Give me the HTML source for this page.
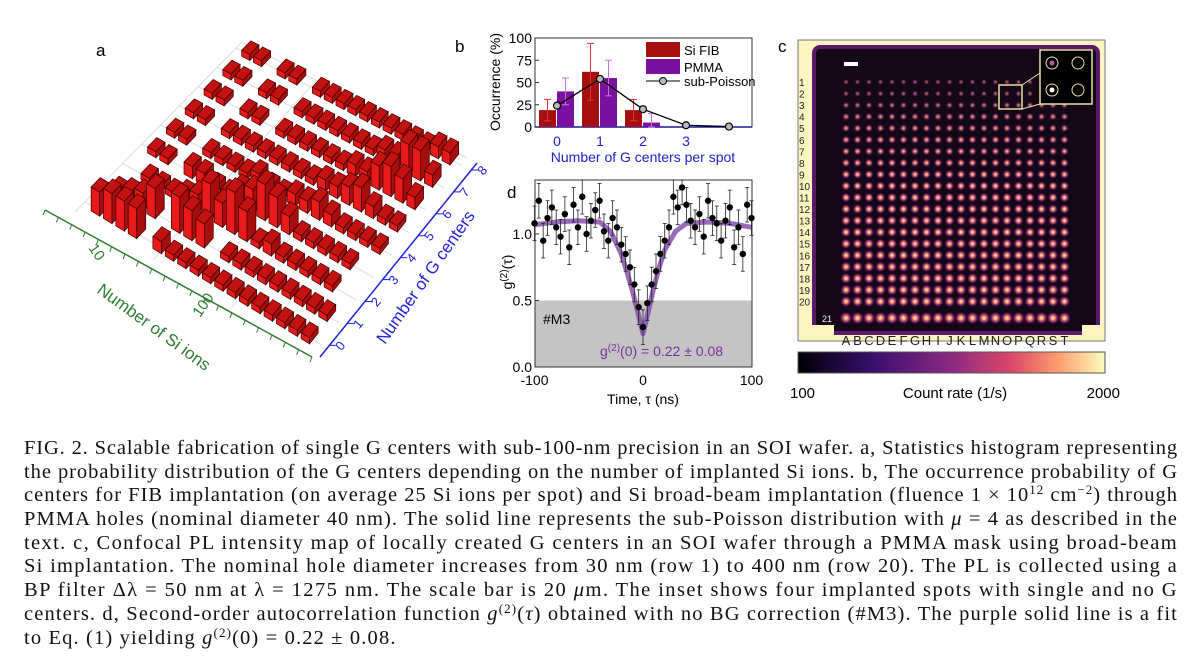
<!DOCTYPE html>
<html><head><meta charset="utf-8">
<style>
body{margin:0;width:1200px;height:672px;background:#fff;overflow:hidden;font-family:"Liberation Sans",sans-serif}
#cap{position:absolute;left:24px;top:437px;width:1154px;font-family:"Liberation Serif",serif;font-size:20.5px;line-height:23.7px;color:#111}
#cap div{white-space:nowrap;height:23.7px}
#cap sup{font-size:13px;line-height:0;vertical-align:7px}
</style></head><body>
<svg id="fig" width="1200" height="425" style="position:absolute;left:0;top:0" font-family="Liberation Sans, sans-serif">
<text x="96" y="56" font-size="17">a</text>
<text x="455" y="52" font-size="17">b</text>
<text x="778" y="52" font-size="17">c</text>
<text x="507" y="198" font-size="17">d</text>
<g id="pa"></g>
<g id="pb"></g>
<g id="pd"></g>
<g id="pc"></g>
</svg>
<div id="cap">
<div>FIG. 2. Scalable fabrication of single G centers with sub-100-nm precision in an SOI wafer. a, Statistics histogram representing</div>
<div>the probability distribution of the G centers depending on the number of implanted Si ions. b, The occurrence probability of G</div>
<div>centers for FIB implantation (on average 25 Si ions per spot) and Si broad-beam implantation (fluence 1 × 10<sup>12</sup> cm<sup>−2</sup>) through</div>
<div>PMMA holes (nominal diameter 40 nm). The solid line represents the sub-Poisson distribution with <i>μ</i> = 4 as described in the</div>
<div>text. c, Confocal PL intensity map of locally created G centers in an SOI wafer through a PMMA mask using broad-beam</div>
<div>Si implantation. The nominal hole diameter increases from 30 nm (row 1) to 400 nm (row 20). The PL is collected using a</div>
<div>BP filter Δλ = 50 nm at λ = 1275 nm. The scale bar is 20 <i>μ</i>m. The inset shows four implanted spots with single and no G</div>
<div>centers. d, Second-order autocorrelation function <i>g</i><sup>(2)</sup>(<i>τ</i>) obtained with no BG correction (#M3). The purple solid line is a fit</div>
<div class="last">to Eq. (1) yielding <i>g</i><sup>(2)</sup>(0) = 0.22 ± 0.08.</div>
</div>
<script>
// ---------- data ----------
// panel a: heights (rows = G centers 0..8, cols = Si-ion bins, low to high)
const aRow0=[4,5,5,5,0,2,1,1,1,1,1,1,1,1,1,1,1,1];
const aRow1=[1,2,3,5,0,6,5,4,0,1,1,1,1,1,1,1,1,1];
const aRow2=[0,1,1,1,2,3,6,4,7,5,1,2,1,1,1,1,1,0];
const aRow3=[1,1,0,2,2,1,1,3,4,6,5,3,1,1,1,1,1,0];
const aRow4=[1,1,0,1,1,1,1,2,1,1,2,2,3,2,1,1,1,1];
const aRow5=[1,1,0,1,1,1,1,1,1,1,1,2,2,3,4,2,1,1];
const aRow6=[1,1,0,1,1,0,1,1,1,1,1,1,2,2,4,5,4,2];
const aRow7=[1,1,0,1,1,0,1,1,1,1,1,1,1,2,2,5,5,2];
const aRow8=[1,1,0,1,1,0,1,1,1,1,1,1,1,1,1,1,2,2];
const aRows=[aRow0,aRow1,aRow2,aRow3,aRow4,aRow5,aRow6,aRow7,aRow8];
const aGTicks=["0","1","2","3","4","5","6","7","8"];
// panel b
const bCats=[0,1,2,3];
const bFib=[19,62,19,0];
const bFibErr=[12,32,12,0];
const bPmma=[40,55,5,0];
const bPmmaErr=[15,20,10,0];
const bPoisX=[0,1,2,3,4];
const bPois=[24,54,20,2,0.5];
const bYTicks=[0,25,50,75,100];
// panel d
const dTau=[-100,-96,-92,-88,-84,-80,-76,-72,-68,-64,-60,-56,-52,-48,-44,-40,-36,-32,-28,-24,-20,-16,-12,-8,-4,0,4,8,12,16,20,24,28,32,36,40,44,48,52,56,60,64,68,72,76,80,84,88,92,96,100];
const dG2=[1.08,1.25,0.95,1.12,1.20,1.05,0.98,1.15,0.90,1.22,1.05,1.28,1.00,1.10,1.18,1.25,1.02,0.95,1.12,1.05,0.92,0.85,0.75,0.62,0.45,0.30,0.48,0.62,0.72,0.85,0.95,1.05,1.28,1.20,1.35,1.22,1.10,1.05,1.15,0.98,1.25,1.12,1.08,0.95,1.10,1.20,0.90,1.05,0.85,1.22,1.12];
const dFitTau=[-100,-80,-60,-40,-30,-20,-15,-10,-5,0,5,10,15,20,30,40,60,80,100];
const dFit=[1.07,1.09,1.10,1.09,1.02,0.85,0.72,0.58,0.42,0.25,0.42,0.60,0.75,0.88,1.02,1.08,1.09,1.08,1.05];
const dXTicks=[-100,0,100];
const dYTicks=[0.0,0.5,1.0];
// panel c: row brightness (rows 1..21) and column labels
const cRowLevel=[0.15,0.2,0.3,0.4,0.45,0.5,0.5,0.55,0.6,0.65,0.7,0.72,0.75,0.78,0.8,0.82,0.85,0.88,0.9,0.92,1.0];
const cCols=["A","B","C","D","E","F","G","H","I","J","K","L","M","N","O","P","Q","R","S","T"];

const NS="http://www.w3.org/2000/svg";
function mk(parent,tag,attrs,text){const e=document.createElementNS(NS,tag);for(const k in attrs)e.setAttribute(k,attrs[k]);if(text!==undefined)e.textContent=text;parent.appendChild(e);return e;}

// ---------- panel a ----------
(function(){
const g=document.getElementById('pa');
const P00=[75,212],P10=[312,357],P11=[467,158],P01=[242,42];
function P(u,v){return [P00[0]*(1-u)*(1-v)+P10[0]*u*(1-v)+P11[0]*u*v+P01[0]*(1-u)*v,
 P00[1]*(1-u)*(1-v)+P10[1]*u*(1-v)+P11[1]*u*v+P01[1]*(1-u)*v];}
for(let r=0;r<9;r++){const v=0.06+r*0.113;const a=P(0,v),b=P(1,v);
 const l=mk(g,'line',{x1:a[0],y1:a[1],x2:b[0],y2:b[1],stroke:'#ddd','stroke-width':1});
 }
[0,0.33,0.66].forEach(u=>{const a=P(u,0),b=P(u,1);mk(g,'line',{x1:a[0],y1:a[1],x2:b[0],y2:b[1],stroke:'#ddd'});});
const o=P(0,1);
mk(g,'line',{x1:o[0],y1:o[1],x2:P11[0],y2:P11[1],stroke:'#ddd'});
const ax1=mk(g,'line',{x1:P00[0]-30,y1:P00[1]-2,x2:P10[0],y2:P10[1],stroke:'#2e7d32','stroke-width':1.5});

const ax2=mk(g,'line',{x1:P10[0]+8,y1:P10[1],x2:P11[0]+10,y2:P11[1]+5,stroke:'#2222dd','stroke-width':1.5});

for(let i=0;i<=20;i++){const t=i/20;const x=P00[0]-30+(P10[0]-P00[0]+30)*t,y=P00[1]-2+(P10[1]-P00[1]+2)*t;
 mk(g,'line',{x1:x,y1:y,x2:x-2,y2:y+5,stroke:'#2e7d32'});}
aGTicks.forEach((lab,i)=>{const t=(0.06+i*0.113);const x=P10[0]+8+(P11[0]-P10[0]+2)*t,y=P10[1]+(P11[1]+5-P10[1])*t;
 mk(g,'line',{x1:x,y1:y,x2:x+7,y2:y,stroke:'#2222dd'});
 const tx=mk(g,'text',{x:x+12,y:y+6,'font-size':13,fill:'#2222dd',transform:`rotate(-50 ${x+12} ${y+6})`},lab);
 });
const t10=mk(g,'text',{x:88,y:248,'font-size':15,fill:'#2e7d32',transform:'rotate(55 88 248)'},'10');

const t100=mk(g,'text',{x:200,y:318,'font-size':15,fill:'#2e7d32',transform:'rotate(-55 200 318)'},'100');

const xl=mk(g,'text',{x:96,y:292,'font-size':17,fill:'#2e7d32',transform:'rotate(36 96 292)'},'Number of Si ions');

const yl=mk(g,'text',{x:385,y:345,'font-size':17,fill:'#2222dd',transform:'rotate(-55 385 345)'},'Number of G centers');

const nc=aRow0.length;
for(let r=8;r>=0;r--){for(let c=0;c<nc;c++){const h=aRows[r][c];if(!h)continue;
 const u0=0.04+c*(0.94/nc),u1=u0+0.036,v0=0.04+r*0.113,v1=v0+0.055;
 const H=h*6;
 const a=P(u0,v0),b=P(u1,v0),cc=P(u1,v1),d=P(u0,v1);
 const bar=mk(g,'g',{});
 
 const pts=(arr)=>arr.map(p=>p[0]+','+p[1]).join(' ');
 const up=p=>[p[0],p[1]-H];
 mk(bar,'polygon',{points:pts([a,b,up(b),up(a)]),fill:'#e81a1a',stroke:'#3a0000','stroke-width':0.7});
 mk(bar,'polygon',{points:pts([b,cc,up(cc),up(b)]),fill:'#a80c0c',stroke:'#3a0000','stroke-width':0.7});
 mk(bar,'polygon',{points:pts([up(a),up(b),up(cc),up(d)]),fill:'#c41212',stroke:'#3a0000','stroke-width':0.7});
}}
})();

// ---------- panel b ----------
(function(){
const g=document.getElementById('pb');
const L=535,R=752,T=38,B=127;
const xs=v=>557+v*43, ys=v=>B-(v/100)*(B-T);
const fr=mk(g,'rect',{x:L,y:T,width:R-L,height:B-T,fill:'none',stroke:'#333'});

mk(g,'line',{x1:L,y1:B,x2:R,y2:B,stroke:'#1a1a99','stroke-width':1.5});
bYTicks.forEach(t=>{const y=ys(t);mk(g,'line',{x1:L,y1:y,x2:L+4,y2:y,stroke:'#333'});
 const e=mk(g,'text',{x:L-3,y:y+5,'font-size':14,'text-anchor':'end'},String(t));
 });
bCats.forEach((c,i)=>{
 const e=mk(g,'text',{x:xs(c),y:146,'font-size':14,'text-anchor':'middle',fill:'#2222cc'},String(c));
 
 if(bFib[i]>0){const y=ys(bFib[i]);
  const b=mk(g,'rect',{x:xs(c)-18,y:y,width:17,height:B-y,fill:'#a50f0f'});
  
  mk(g,'line',{x1:xs(c)-9.5,y1:ys(bFib[i]-bFibErr[i]),x2:xs(c)-9.5,y2:ys(bFib[i]+bFibErr[i]),stroke:'#e03030'});
  [bFib[i]-bFibErr[i],bFib[i]+bFibErr[i]].forEach(v=>mk(g,'line',{x1:xs(c)-13,x2:xs(c)-6,y1:ys(v),y2:ys(v),stroke:'#e03030'}));}
 if(bPmma[i]>0){const y=ys(bPmma[i]);
  const b=mk(g,'rect',{x:xs(c),y:y,width:17,height:B-y,fill:'#7a10a0'});
  
  mk(g,'line',{x1:xs(c)+8.5,y1:ys(Math.max(0,bPmma[i]-bPmmaErr[i])),x2:xs(c)+8.5,y2:ys(bPmma[i]+bPmmaErr[i]),stroke:'#d070e0'});
  [bPmma[i]-bPmmaErr[i],bPmma[i]+bPmmaErr[i]].forEach(v=>mk(g,'line',{x1:xs(c)+5,x2:xs(c)+12,y1:ys(Math.max(0,v)),y2:ys(Math.max(0,v)),stroke:'#d070e0'}));}
});
const pl=mk(g,'polyline',{points:bPoisX.map((x,i)=>xs(x)+','+ys(bPois[i])).join(' '),fill:'none',stroke:'#000','stroke-width':1.3});

bPoisX.forEach((x,i)=>{const c=mk(g,'circle',{cx:xs(x),cy:ys(bPois[i]),r:3.5,fill:'#bbb',stroke:'#000','stroke-width':1.2});
 });
const lg=mk(g,'g',{});
mk(lg,'rect',{x:646,y:42,width:34,height:15,fill:'#a50f0f'});
mk(lg,'text',{x:684,y:55,'font-size':13},'Si FIB');
mk(lg,'rect',{x:646,y:59,width:34,height:15,fill:'#7a10a0'});
mk(lg,'text',{x:684,y:72,'font-size':13},'PMMA');
mk(lg,'line',{x1:646,y1:81,x2:680,y2:81,stroke:'#000'});
mk(lg,'circle',{cx:663,cy:81,r:3.5,fill:'#bbb',stroke:'#000'});
mk(lg,'text',{x:684,y:86,'font-size':13},'sub-Poisson');
const yt=mk(g,'text',{x:500,y:82,'font-size':14,'text-anchor':'middle',transform:'rotate(-90 500 82)'},'Occurrence (%)');

const xt=mk(g,'text',{x:643,y:162,'font-size':14,'text-anchor':'middle',fill:'#2222cc'},'Number of G centers per spot');

})();

// ---------- panel d ----------
(function(){
const g=document.getElementById('pd');
const L=535,R=752,T=180,B=367;
const xs=v=>643+v*1.085, ys=v=>B-v*133;
const sh=mk(g,'rect',{x:L,y:ys(0.5),width:R-L,height:B-ys(0.5),fill:'#c4c4c4'});

const fr=mk(g,'rect',{x:L,y:T,width:R-L,height:B-T,fill:'none',stroke:'#333'});

const fit=mk(g,'polyline',{points:dFitTau.map((t,i)=>xs(t)+','+ys(dFit[i])).join(' '),fill:'none',stroke:'#8a4fb0','stroke-width':5,'stroke-opacity':0.85,'stroke-linejoin':'round'});

dTau.forEach((t,i)=>{const v=dG2[i];const x=xs(t);const e=0.13;
 const y1=Math.max(T,ys(v+e)),y2=ys(v-e);
 mk(g,'line',{x1:x,y1:y1,x2:x,y2:y2,stroke:'#222','stroke-width':0.8});
 mk(g,'line',{x1:x-2,y1:y1,x2:x+2,y2:y1,stroke:'#222','stroke-width':0.8});
 mk(g,'line',{x1:x-2,y1:y2,x2:x+2,y2:y2,stroke:'#222','stroke-width':0.8});
 const c=mk(g,'circle',{cx:x,cy:Math.max(T+2,ys(v)),r:3.2,fill:'#000'});
 });
dYTicks.forEach(t=>{const e=mk(g,'text',{x:L-3,y:ys(t)+5,'font-size':14,'text-anchor':'end'},t.toFixed(1));
 
 mk(g,'line',{x1:L,y1:ys(t),x2:L+4,y2:ys(t),stroke:'#333'});});
dXTicks.forEach(t=>{const e=mk(g,'text',{x:xs(t),y:385,'font-size':14,'text-anchor':'middle'},String(t));
 });
const m3=mk(g,'text',{x:543,y:324,'font-size':14},'#M3');
const an=mk(g,'text',{x:600,y:356,'font-size':14,fill:'#7a2fa0'});

an.innerHTML='g<tspan dy="-5" font-size="10">(2)</tspan><tspan dy="5">(0) = 0.22 ± 0.08</tspan>';
const xt=mk(g,'text',{x:643,y:404,'font-size':14,'text-anchor':'middle'},'Time, τ (ns)');

const yt=mk(g,'text',{x:512,y:272,'font-size':14,'text-anchor':'middle',transform:'rotate(-90 512 272)'});

yt.innerHTML='g<tspan dy="-5" font-size="10">(2)</tspan><tspan dy="5">(τ)</tspan>';
})();

// ---------- panel c ----------
(function(){
const g=document.getElementById('pc');
const defs=mk(g,'defs',{});
const lgd=mk(defs,'linearGradient',{id:'magma',x1:0,x2:1,y1:0,y2:0});
[['0','#000004'],['0.25','#3b0f70'],['0.5','#8c2981'],['0.7','#de4968'],['0.85','#fe9f6d'],['1','#fcfdbf']].forEach(s=>mk(lgd,'stop',{offset:s[0],'stop-color':s[1]}));
const rg=mk(defs,'radialGradient',{id:'spot'});
mk(rg,'stop',{offset:'0','stop-color':'#fffbd0'});mk(rg,'stop',{offset:'0.35','stop-color':'#f08060'});mk(rg,'stop',{offset:'0.7','stop-color':'#a02890','stop-opacity':0.6});mk(rg,'stop',{offset:'1','stop-color':'#300040','stop-opacity':0});
const fr=mk(g,'rect',{x:798,y:40,width:307,height:301,fill:'#fbf5c2',stroke:'#777'});

const dk=mk(g,'rect',{x:814,y:47,width:284,height:286,rx:6,fill:'#140818',stroke:'#5a1a6a','stroke-width':4});

mk(g,'rect',{x:808,y:325,width:26,height:14,fill:'#fbf5c2'});
mk(g,'rect',{x:1082,y:325,width:18,height:14,fill:'#fbf5c2'});
const rowY=r=>82+r*11.55, colX=c=>846+c*11.5;
cRowLevel.forEach((lev,r)=>{
 const y=r<20?rowY(r):318;
 cCols.forEach((_,c)=>{const rad=r<20?2.5+lev*3.5:6.5;
  const s=mk(g,'circle',{cx:colX(c),cy:y,r:rad,fill:'url(#spot)','fill-opacity':Math.min(1,0.35+lev)});
  });
 const t=mk(g,'text',{x:r<20?799:822,y:y+4,'font-size':r<20?10:9,fill:r<20?'#222':'#eee'},String(r+1));
 
});
cCols.forEach((l,c)=>{const t=mk(g,'text',{x:colX(c),y:345,'font-size':13,'text-anchor':'middle',fill:'#222'},l);
 });
const sb=mk(g,'rect',{x:844,y:62,width:14,height:4,fill:'#fff'});
const ins=mk(g,'g',{});
mk(ins,'rect',{x:999,y:85,width:23,height:24,fill:'none',stroke:'#e8e0a0','stroke-width':1.5});
mk(ins,'line',{x1:1022,y1:85,x2:1040,y2:73,stroke:'#e8e0a0'});mk(ins,'line',{x1:1022,y1:109,x2:1040,y2:104,stroke:'#e8e0a0'});
mk(ins,'rect',{x:1040,y:50,width:52,height:54,fill:'#000',stroke:'#e8e0a0','stroke-width':1.5});
[[1052,63],[1078,63],[1052,90],[1078,90]].forEach((p,i)=>{mk(ins,'circle',{cx:p[0],cy:p[1],r:6,fill:'none',stroke:'#e8e0a0'});
 if(i%2==0)mk(ins,'circle',{cx:p[0],cy:p[1],r:2.5,fill:i==0?'#c050a0':'#fff'});});
const cb=mk(g,'rect',{x:798,y:352,width:307,height:21,fill:'url(#magma)',stroke:'#555'});

[['100',790,'start'],['2000',1120,'end']].forEach(a=>{const t=mk(g,'text',{x:a[1],y:398,'font-size':15,'text-anchor':a[2]},a[0]);
 });
const ct=mk(g,'text',{x:955,y:398,'font-size':15,'text-anchor':'middle'},'Count rate (1/s)');

})();

// caption: stretch each line to full width via letter-spacing
(function(){
const lines=document.querySelectorAll('#cap div');let ls=0;
lines.forEach(d=>{if(d.classList.contains('last'))return;
 const r=document.createRange();r.selectNodeContents(d);const w=r.getBoundingClientRect().width;
 const n=d.textContent.length;const s=(1154-w)/n;d.style.letterSpacing=s+'px';ls+=s;});
lines[lines.length-1].style.letterSpacing=(ls/(lines.length-1))+'px';
})();
</script>
</body></html>
